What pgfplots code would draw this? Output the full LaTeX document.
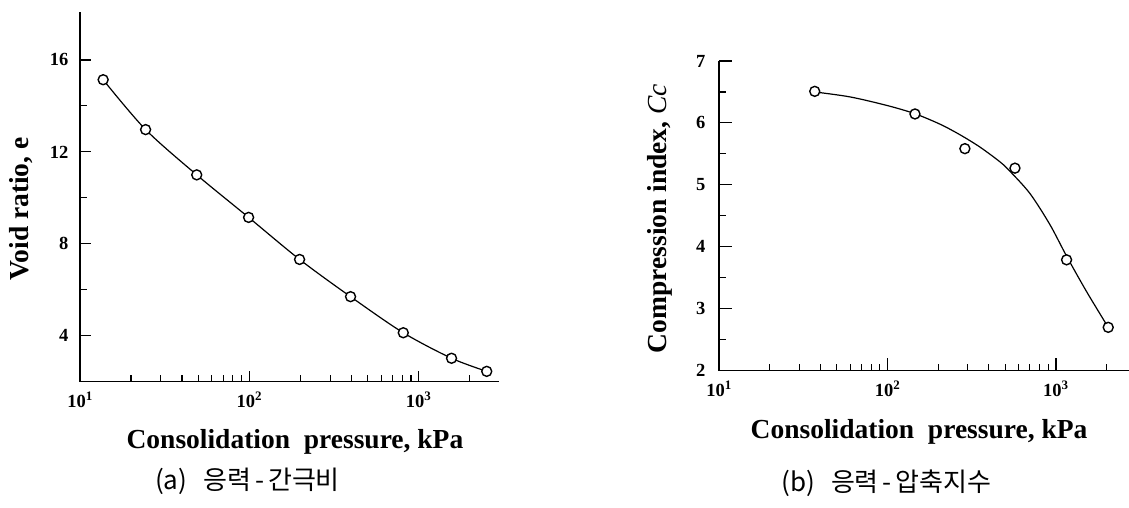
\documentclass[border=0pt]{standalone}
\usepackage{pgfplots}
\pgfplotsset{compat=1.18}
\usepackage{fontspec}
\setmainfont{Liberation Serif}
\newfontfamily\kr{Noto Sans CJK KR}
\begin{document}
\begin{tikzpicture}[x=1pt,y=1pt]
\useasboundingbox (0,0) rectangle (1129,507);
\begin{axis}[at={(80pt,125.3pt)}, anchor=south west,
  scale only axis, xmode=log, axis lines=left,
  axis line style={-, line width=1.5pt},
  tick align=inside, major tick length=11pt, minor tick length=7pt,
  every tick/.append style={line width=1.1pt, black},
  tick label style={font=\fontsize{18.5}{20}\selectfont\bfseries},
  xtick={10,100,1000},
  xticklabels={10\textsuperscript{1},10\textsuperscript{2},10\textsuperscript{3}},
  minor xtick={20,30,40,50,60,70,80,90,200,300,400,500,600,700,800,900,2000},
  label style={font=\fontsize{27.5}{30}\selectfont\bfseries},
  yticklabel style={xshift=-8pt},
  xticklabel style={yshift=-7pt},
  clip=false,
  width=419pt, height=370pt, xmin=10, xmax=2980, ymin=2, ymax=18.1,
  ytick={4,8,12,16}, yticklabels={4,8,12,16}, minor ytick={6,10,14},
  ylabel={Void ratio, e},
  xlabel={Consolidation\ \ pressure, kPa},
  ylabel style={at={(axis description cs:-0.1396,0.4668)}, anchor=center},
  xlabel style={at={(axis description cs:0.513,-0.162)}, anchor=center}]
\addplot[line width=1.2pt, smooth, mark=*, mark size=5pt,
  mark options={fill=white, draw=black, line width=1.4pt}] coordinates {
  (13.7,15.14) (24.4,12.97) (48.9,11.0) (99,9.15) (198,7.32)
  (396,5.70) (811,4.13) (1563,3.02) (2522,2.45)};
\end{axis}
\begin{axis}[at={(719pt,136.3pt)}, anchor=south west,
  scale only axis, xmode=log, axis lines=left,
  axis line style={-, line width=1.5pt},
  tick align=inside, major tick length=13pt, minor tick length=7pt,
  every tick/.append style={line width=1.1pt, black},
  tick label style={font=\fontsize{18.5}{20}\selectfont\bfseries},
  xtick={10,100,1000},
  xticklabels={10\textsuperscript{1},10\textsuperscript{2},10\textsuperscript{3}},
  minor xtick={20,30,40,50,60,70,80,90,200,300,400,500,600,700,800,900,2000},
  label style={font=\fontsize{27.5}{30}\selectfont\bfseries},
  yticklabel style={xshift=-10pt},
  xticklabel style={yshift=-7pt},
  clip=false,
  width=410pt, height=309.7pt, xmin=10, xmax=2713, ymin=2, ymax=7,
  ytick={2,3,4,5,6,7}, yticklabels={2,3,4,5,6,7},
  minor ytick={2.5,3.5,4.5,5.5,6.5},
  ylabel={Compression index, {\mdseries\itshape Cc}},
  xlabel={Consolidation\ \ pressure, kPa},
  ylabel style={at={(axis description cs:-0.1439,0.4914)}, anchor=center},
  xlabel style={at={(axis description cs:0.488,-0.197)}, anchor=center}]
\addplot[line width=1.2pt, smooth] coordinates {
  (37,6.50) (60,6.42) (100,6.28) (145,6.15) (205,5.98) (269,5.81)
  (354,5.61) (466,5.37) (533,5.22) (701,4.86) (920,4.36) (1156,3.85)
  (1517,3.28) (2042,2.70)};
\addplot[only marks, mark=*, mark size=5pt,
  mark options={fill=white, draw=black, line width=1.4pt}] coordinates {
  (37,6.51) (145.6,6.145) (288,5.585) (571,5.27) (1156,3.79) (2042,2.70)};
\end{axis}
\node[font=\kr\fontsize{26}{28}\selectfont] at (247.5,26) {(a)\hspace{16pt}응력\hspace{4pt}-\hspace{4pt}간극비};
\node[font=\kr\fontsize{26}{28}\selectfont] at (886.5,24) {(b)\hspace{16pt}응력\hspace{4pt}-\hspace{4pt}압축지수};
\end{tikzpicture}
\end{document}
